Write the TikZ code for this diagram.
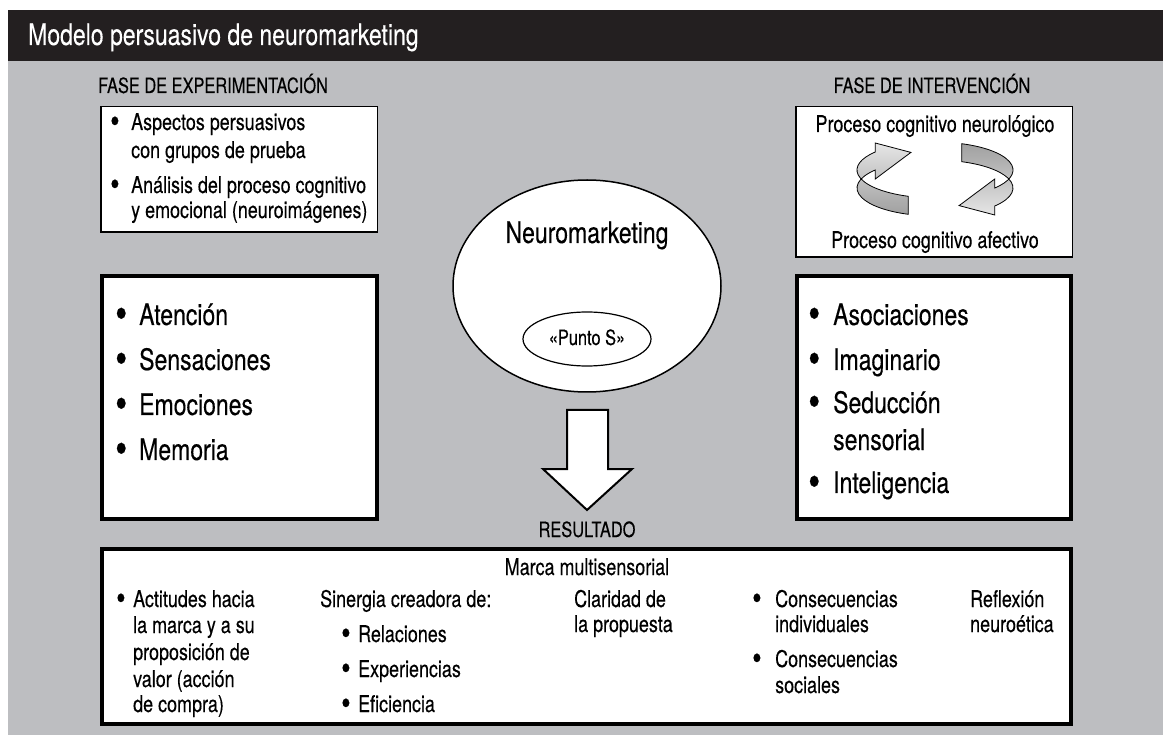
\documentclass[tikz,border=0pt]{standalone}
\usepackage{fontspec}
\setmainfont{TeX Gyre Heros}[FakeStretch=0.78,FakeBold=0.25]
\usepackage{graphicx}
\usepackage{tikz}
\definecolor{panel}{RGB}{189,190,193}
\definecolor{bar}{RGB}{35,31,32}
\newcommand{\itemdot}[1]{\makebox[#1][l]{\raisebox{-0.12em}{\scalebox{1.5}{\textbullet}}}}

\begin{document}
\begin{tikzpicture}[x=1pt,y=1pt]
\tikzstyle{every node}+=[inner sep=0pt]
\tikzstyle{big}=[font=\fontsize{29.5}{29.5}\selectfont, anchor=base west]
\tikzstyle{mid}=[font=\fontsize{23}{23}\selectfont, anchor=base west]
\tikzstyle{small}=[font=\fontsize{21}{21}\selectfont, anchor=base west]
\tikzstyle{thin box}=[draw=black, fill=white, line width=1.5pt]
\tikzstyle{thick box}=[draw=black, fill=white, line width=4pt]
\tikzstyle{ribbon}=[draw=black, line width=0.8pt, line join=miter]
\useasboundingbox (0,0) rectangle (1163,-735);
\fill [white] (0,0) rectangle (1163,-735);
\fill [panel] (8,-61) rectangle (1163,-735);
\fill [bar] (8,-10) rectangle (1163,-61);
\draw (28,-45) node (title) [big, white] {Modelo persuasivo de neuromarketing};
% fase de experimentacion
\draw (98,-93) node (fexp) [small] {FASE DE EXPERIMENTACIÓN};
\draw [thin box] (100.75,-106.75) rectangle (377.25,-232.25);
\draw (110,-130) node (asp) [mid] {\itemdot{21pt}Aspectos persuasivos};
\draw (131,-158) node (asp2) [mid] {con grupos de prueba};
\draw (110,-193) node (ana) [mid] {\itemdot{21pt}Análisis del proceso cognitivo};
\draw (131,-218) node (ana2) [mid] {y emocional (neuroimágenes)};
\draw [thick box] (102,-276) rectangle (377,-519);
\draw (115,-325) node (aten) [big] {\itemdot{24pt}Atención};
\draw (115,-370) node (sens) [big] {\itemdot{24pt}Sensaciones};
\draw (115,-415) node (emoc) [big] {\itemdot{24pt}Emociones};
\draw (115,-460) node (memo) [big] {\itemdot{24pt}Memoria};
% fase de intervencion
\draw (932,-93) node (fint) [small, anchor=base] {FASE DE INTERVENCIÓN};
\draw [thin box] (795.75,-106.75) rectangle (1072.25,-257.25);
\draw (935,-132) node (neuro) [mid, anchor=base] {Proceso cognitivo neurológico};
\draw (935,-248) node (afect) [mid, anchor=base] {Proceso cognitivo afectivo};
\path [ribbon, top color=gray!20, bottom color=gray!75]
  (908.3,-196.3) arc [start angle=250, end angle=140, x radius=78, y radius=28]
  -- (875.25,-143) -- (910.9,-152.4) -- (875.25,-179) -- (875.25,-170)
  arc [start angle=140, end angle=250, x radius=78, y radius=28] -- cycle;
\path [ribbon, top color=gray!75, bottom color=gray!20]
  (961.7,-143.7) arc [start angle=70, end angle=-40, x radius=78, y radius=28]
  -- (994.75,-179) -- (959.1,-205.6) -- (994.75,-215) -- (994.75,-206)
  arc [start angle=-40, end angle=70, x radius=78, y radius=28] -- cycle;
\draw [thick box] (797,-276) rectangle (1071,-519);
\draw (808,-325) node (asoc) [big] {\itemdot{25pt}Asociaciones};
\draw (808,-370) node (imag) [big] {\itemdot{25pt}Imaginario};
\draw (808,-413) node (sedu) [big] {\itemdot{25pt}Seducción};
\draw (833,-450) node (sedu2) [big] {sensorial};
\draw (808,-493) node (inte) [big] {\itemdot{25pt}Inteligencia};
% neuromarketing
\draw [fill=white, line width=1.5pt] (587,-286) ellipse [x radius=134, y radius=106];
\draw (587,-243) node (nm) [big, anchor=base] {Neuromarketing};
\draw [line width=1.2pt] (587,-339) ellipse [x radius=64, y radius=27];
\draw (587,-345) node (punto) [small, anchor=base] {«Punto S»};
\draw [fill=white, line width=2pt, line join=miter]
  (567,-410) -- (608,-410) -- (608,-469) -- (632,-469) -- (587,-510)
  -- (543,-469) -- (567,-469) -- cycle;
\draw (587,-537) node (res) [small, anchor=base] {RESULTADO};
% resultado
\draw [thick box] (102,-549) rectangle (1071,-724);
\draw (587,-575) node (marca) [mid, anchor=base] {Marca multisensorial};
\draw (116,-607) node (act) [mid] {\itemdot{17pt}Actitudes hacia};
\draw (133,-633) node (act2) [mid] {la marca y a su};
\draw (133,-660) node (act3) [mid] {proposición de};
\draw (133,-687) node (act4) [mid] {valor (acción};
\draw (133,-712) node (act5) [mid] {de compra)};
\draw (320,-607) node (sin) [mid] {Sinergia creadora de:};
\draw (341,-642) node (rel) [mid] {\itemdot{17pt}Relaciones};
\draw (341,-677) node (exp) [mid] {\itemdot{17pt}Experiencias};
\draw (341,-712) node (efi) [mid] {\itemdot{17pt}Eficiencia};
\draw (574,-607) node (cla) [mid] {Claridad de};
\draw (574,-632) node (cla2) [mid] {la propuesta};
\draw (752,-607) node (cind) [mid] {\itemdot{23pt}Consecuencias};
\draw (775,-632) node (cind2) [mid] {individuales};
\draw (752,-667) node (csoc) [mid] {\itemdot{23pt}Consecuencias};
\draw (775,-693) node (csoc2) [mid] {sociales};
\draw (970,-607) node (refl) [mid] {Reflexión};
\draw (970,-632) node (refl2) [mid] {neuroética};
\end{tikzpicture}
\end{document}
